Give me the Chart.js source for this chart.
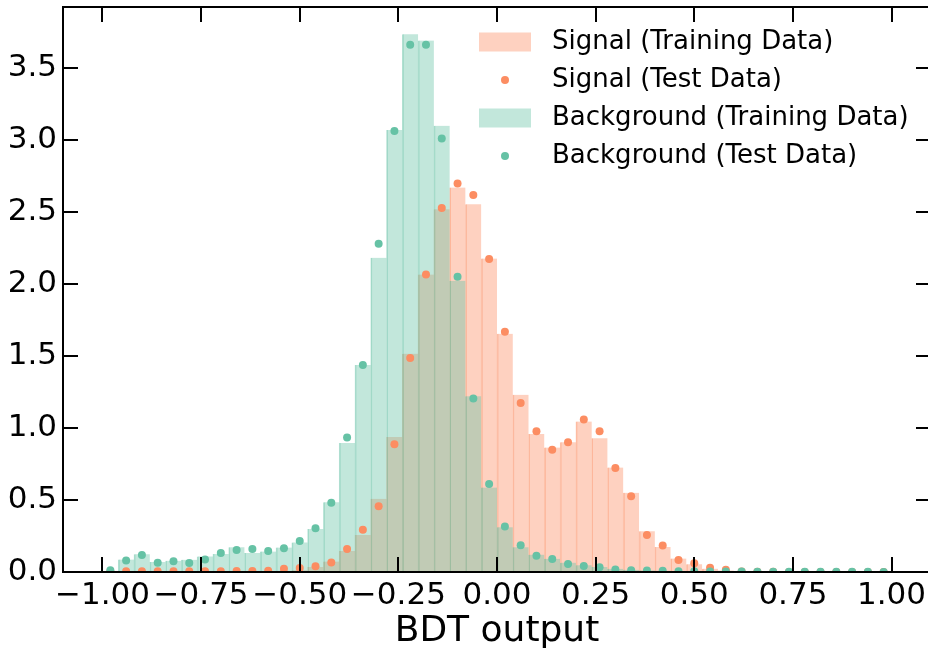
<!DOCTYPE html>
<html>
<head>
<meta charset="utf-8">
<script src="https://cdn.jsdelivr.net/npm/chart.js@4/dist/chart.umd.min.js"></script>
<style>
  html, body { margin: 0; padding: 0; background: #fff; overflow: hidden; }
  #bdt { display: block; }
</style>
</head>
<body>
<canvas id="bdt" width="945" height="653"></canvas>
<script>
// BDT score histograms, 50 bins of width 0.04 on [-1, 1], normalised densities
const binLow = -1.0;
const binWidth = 0.04;

const signalTrain = [
  0.002, 0.002, 0.002, 0.002, 0.002, 0.002, 0.003, 0.003, 0.003, 0.004,
  0.005, 0.006, 0.012, 0.035, 0.072, 0.145, 0.256, 0.508, 0.936, 1.515,
  2.064, 2.517, 2.667, 2.552, 2.175, 1.653, 1.230, 0.958, 0.863, 0.900,
  1.044, 0.928, 0.725, 0.549, 0.282, 0.174, 0.093, 0.053, 0.023, 0.010,
  0.004, 0.002, 0.001, 0.0, 0.0, 0.0, 0.0, 0.0, 0.0, 0.0
];
const signalTest = [
  0.004, 0.006, 0.006, 0.006, 0.006, 0.006, 0.006, 0.006, 0.007, 0.007,
  0.008, 0.023, 0.028, 0.040, 0.066, 0.160, 0.293, 0.456, 0.887, 1.485,
  2.064, 2.525, 2.695, 2.616, 2.172, 1.667, 1.172, 0.977, 0.848, 0.901,
  1.058, 0.976, 0.722, 0.525, 0.257, 0.183, 0.083, 0.060, 0.030, 0.016,
  0.003, 0.002, 0.001, 0.0, 0.0, 0.0, 0.0, 0.0, 0.0, 0.0
];
const backgroundTrain = [
  0.0, 0.086, 0.123, 0.070, 0.078, 0.085, 0.108, 0.125, 0.171, 0.132,
  0.142, 0.170, 0.205, 0.298, 0.484, 0.895, 1.436, 2.180, 3.066, 3.731,
  3.687, 3.096, 2.020, 1.219, 0.586, 0.310, 0.172, 0.120, 0.092, 0.065,
  0.046, 0.035, 0.022, 0.015, 0.011, 0.008, 0.006, 0.005, 0.004, 0.003,
  0.003, 0.002, 0.002, 0.001, 0.001, 0.001, 0.001, 0.001, 0.0, 0.0
];
const backgroundTest = [
  0.012, 0.080, 0.118, 0.065, 0.074, 0.063, 0.086, 0.132, 0.153, 0.160,
  0.146, 0.164, 0.215, 0.304, 0.480, 0.933, 1.436, 2.278, 3.060, 3.658,
  3.658, 3.007, 2.049, 1.204, 0.610, 0.315, 0.185, 0.113, 0.091, 0.055,
  0.042, 0.033, 0.018, 0.012, 0.010, 0.008, 0.006, 0.005, 0.004, 0.003,
  0.003, 0.002, 0.002, 0.002, 0.001, 0.001, 0.001, 0.001, 0.001, 0.0
];

const xTicks = [-1.0, -0.75, -0.5, -0.25, 0.0, 0.25, 0.5, 0.75, 1.0];
const yTicks = [0.0, 0.5, 1.0, 1.5, 2.0, 2.5, 3.0, 3.5];
const xRange = [-1.1, 1.1];
const yMax = 3.92;

const ORANGE = "rgb(252, 141, 98)";
const GREEN = "rgb(102, 194, 165)";
const TICK_LEN = 15;

const toPoints = (vals) =>
  vals.map((v, i) => ({ x: binLow + binWidth * (i + 0.5), y: v }));

// matplotlib style: inward ticks on all four sides and a closed frame
const frameTicks = {
  id: "frameTicks",
  afterDraw(chart) {
    const { ctx, chartArea: a, scales } = chart;
    ctx.save();
    ctx.strokeStyle = "#000";
    ctx.lineWidth = 2;
    ctx.beginPath();
    ctx.rect(a.left, a.top, a.right - a.left, a.bottom - a.top);
    xTicks.forEach((v) => {
      const px = Math.round(scales.x.getPixelForValue(v));
      ctx.moveTo(px, a.bottom);
      ctx.lineTo(px, a.bottom - TICK_LEN);
      ctx.moveTo(px, a.top);
      ctx.lineTo(px, a.top + TICK_LEN);
    });
    yTicks.forEach((v) => {
      const py = Math.round(scales.y.getPixelForValue(v));
      ctx.moveTo(a.left, py);
      ctx.lineTo(a.left + TICK_LEN, py);
      ctx.moveTo(a.right, py);
      ctx.lineTo(a.right - TICK_LEN, py);
    });
    ctx.stroke();
    ctx.restore();
  },
};

// frameless legend in the upper right
const plainLegend = {
  id: "plainLegend",
  afterDraw(chart) {
    const ctx = chart.ctx;
    ctx.save();
    ctx.font = '26px "DejaVu Sans"';
    ctx.textBaseline = "middle";
    chart.data.datasets.forEach((ds, i) => {
      const cy = 42 + i * 38;
      if (ds.type === "bar") {
        ctx.fillStyle = ds.backgroundColor;
        ctx.fillRect(479, cy - 9.5, 52, 19);
      } else {
        ctx.fillStyle = ds.backgroundColor;
        ctx.beginPath();
        ctx.arc(505, cy, 4, 0, Math.PI * 2);
        ctx.fill();
      }
      ctx.fillStyle = "#000";
      ctx.fillText(ds.label, 552, cy);
    });
    ctx.restore();
  },
};

Chart.defaults.font.family = '"DejaVu Sans"';
Chart.defaults.color = "#000";

new Chart(document.getElementById("bdt"), {
  type: "bar",
  data: {
    datasets: [
      {
        type: "bar",
        label: "Signal (Training Data)",
        data: toPoints(signalTrain),
        backgroundColor: "rgba(252, 141, 98, 0.4)",
        borderColor: "rgba(252, 141, 98, 0.5)",
        borderWidth: { left: 1, right: 0, top: 0, bottom: 0 },
        borderSkipped: false,
        grouped: false,
        barPercentage: 1,
        categoryPercentage: 1,
        order: 3,
      },
      {
        type: "scatter",
        label: "Signal (Test Data)",
        data: toPoints(signalTest),
        backgroundColor: ORANGE,
        pointRadius: 4,
        pointBorderWidth: 0,
        clip: 0,
        order: 1,
      },
      {
        type: "bar",
        label: "Background (Training Data)",
        data: toPoints(backgroundTrain),
        backgroundColor: "rgba(102, 194, 165, 0.4)",
        borderColor: "rgba(102, 194, 165, 0.5)",
        borderWidth: { left: 1, right: 0, top: 0, bottom: 0 },
        borderSkipped: false,
        grouped: false,
        barPercentage: 1,
        categoryPercentage: 1,
        order: 2,
      },
      {
        type: "scatter",
        label: "Background (Test Data)",
        data: toPoints(backgroundTest),
        backgroundColor: GREEN,
        pointRadius: 4,
        pointBorderWidth: 0,
        clip: 0,
        order: 0,
      },
    ],
  },
  options: {
    responsive: false,
    animation: false,
    layout: { padding: { left: 0, right: 14, top: 7, bottom: 0 } },
    plugins: {
      legend: { display: false },
      tooltip: { enabled: false },
    },
    scales: {
      x: {
        type: "linear",
        min: xRange[0],
        max: xRange[1],
        offset: false,
        grid: { display: false, drawTicks: false },
        border: { display: false },
        afterBuildTicks: (scale) => {
          scale.ticks = xTicks.map((v) => ({ value: v }));
        },
        afterFit: (scale) => {
          scale.height = 81;
          scale.paddingLeft = 0;
          scale.paddingRight = 0;
        },
        ticks: {
          autoSkip: false,
          maxRotation: 0,
          padding: 5,
          font: { size: 31 },
          callback: (v) => v.toFixed(2).replace("-", "\u2212"),
        },
        title: {
          display: true,
          text: "BDT output",
          font: { size: 36 },
          padding: { top: 0, bottom: 0 },
        },
      },
      y: {
        min: 0,
        max: yMax,
        grid: { display: false, drawTicks: false },
        border: { display: false },
        afterBuildTicks: (scale) => {
          scale.ticks = yTicks.map((v) => ({ value: v }));
        },
        afterFit: (scale) => {
          scale.width = 63;
          scale.paddingTop = 0;
          scale.paddingBottom = 0;
        },
        ticks: {
          padding: 6,
          font: { size: 31 },
          callback: (v) => v.toFixed(1),
        },
      },
    },
  },
  plugins: [frameTicks, plainLegend],
});
</script>
</body>
</html>
